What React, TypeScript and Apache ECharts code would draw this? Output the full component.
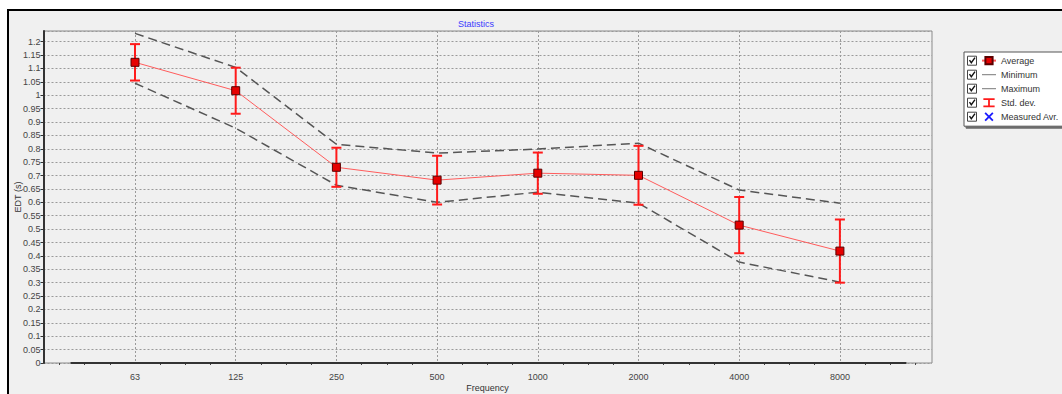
import React, { useEffect, useRef } from "react";
import * as echarts from "echarts";

// ---- data ----
const freqLabels = ["63", "125", "250", "500", "1000", "2000", "4000", "8000"];
const averageValues = [1.123, 1.017, 0.731, 0.683, 0.709, 0.701, 0.515, 0.418];
const stdDevValues = [0.068, 0.086, 0.073, 0.091, 0.077, 0.11, 0.105, 0.118];
const minimumValues = [1.045, 0.877, 0.664, 0.6, 0.638, 0.597, 0.377, 0.302];
const maximumValues = [1.231, 1.104, 0.817, 0.784, 0.799, 0.821, 0.646, 0.597];
const measuredValues: number[] = [];
const yRange = [0, 1.24];
const yStep = 0.05;
const xRange = [-1, 8];
const xAxisLineExtent = [-0.64, 7.66];
const legendNames = ["Average", "Minimum", "Maximum", "Std. dev.", "Measured Avr."];

const FONT = "Liberation Sans, Arial, sans-serif";

export default function App() {
  const ref = useRef<HTMLDivElement>(null);
  useEffect(() => {
    if (!ref.current) return;
    const chart = echarts.init(ref.current, undefined, { renderer: "svg" });

    const legendTop = 52;
    const rowH = 14;
    const checkboxes: any[] = legendNames.map((_, k) => {
      const cy = legendTop + 8.7 + k * rowH;
      return {
        type: "group",
        z: 100,
        children: [
          {
            type: "rect",
            shape: { x: 967.5, y: cy - 4.5, width: 9, height: 9 },
            style: { fill: "#fff", stroke: "#444", lineWidth: 1 },
            z: 100,
          },
          {
            type: "polyline",
            shape: { points: [[969.5, cy - 0.5], [971.3, cy + 2], [975, cy - 3]] },
            style: { stroke: "#111", lineWidth: 1.4, fill: null },
            z: 101,
          },
        ],
      };
    });

    const option: any = {
      animation: false,
      backgroundColor: "#f0f0f0",
      textStyle: { fontFamily: FONT },
      title: {
        text: "Statistics",
        left: 453,
        top: 14,
        textStyle: { color: "#3a3aff", fontSize: 9, fontWeight: "normal", fontFamily: FONT },
      },
      legend: {
        orient: "vertical",
        left: 964,
        top: legendTop,
        padding: [4, 8, 5, 17],
        itemWidth: 14,
        itemHeight: 9,
        itemGap: 5,
        backgroundColor: "#ffffff",
        borderColor: "#555",
        borderWidth: 1,
        shadowColor: "rgba(0,0,0,0.55)",
        shadowBlur: 1,
        shadowOffsetX: 2,
        shadowOffsetY: 2,
        selectedMode: false,
        textStyle: { fontSize: 9, color: "#333", fontFamily: FONT },
        data: [
          { name: "Average" },
          { name: "Minimum", icon: "path://M0,4L14,4L14,5L0,5Z", itemStyle: { color: "#777" } },
          { name: "Maximum", icon: "path://M0,4L14,4L14,5L0,5Z", itemStyle: { color: "#777" } },
          {
            name: "Std. dev.",
            icon: "path://M0,0H10V1.6H5.8V6.4H10V8H0V6.4H4.2V1.6H0Z",
          },
          {
            name: "Measured Avr.",
            icon: "path://M0,1.4L1.4,0L5,3.6L8.6,0L10,1.4L6.4,5L10,8.6L8.6,10L5,6.4L1.4,10L0,8.6L3.6,5Z",
          },
        ],
      },
      graphic: [
        { type: "rect", shape: { x: 0, y: 0, width: 1062, height: 9 }, style: { fill: "#ffffff" }, z: 90 },
        { type: "rect", shape: { x: 0, y: 0, width: 7, height: 394 }, style: { fill: "#ffffff" }, z: 90 },
        { type: "rect", shape: { x: 7, y: 9, width: 1055, height: 2 }, style: { fill: "#000000" }, z: 91 },
        { type: "rect", shape: { x: 7, y: 9, width: 2, height: 385 }, style: { fill: "#000000" }, z: 91 },
        ...checkboxes,
      ],
      grid: [
        {
          left: 43.5,
          right: 130,
          top: 31,
          bottom: 31,
          show: true,
          outerBoundsMode: "none",
          containLabel: false,
          backgroundColor: "#f0f0f0",
          borderColor: "#8a8a8a",
          borderWidth: 1,
        },
        {
          left: 34.3,
          right: 121.4,
          top: 31,
          bottom: 31,
          outerBoundsMode: "none",
          containLabel: false,
          show: false,
        },
      ],
      xAxis: [
        { type: "value", gridIndex: 0, min: 0, max: 1, show: false },
        {
          type: "value",
          gridIndex: 1,
          min: xRange[0],
          max: xRange[1],
          interval: 1,
          name: "Frequency",
          nameLocation: "middle",
          nameGap: 20,
          nameMoveOverlap: false,
          nameTextStyle: { fontSize: 9, color: "#333", fontFamily: FONT },
          axisLine: { show: false },
          axisTick: { show: false },
          minorTick: { show: true, splitNumber: 4, length: 2, lineStyle: { color: "#444", width: 1 } },
          axisLabel: {
            fontSize: 9,
            color: "#444",
            margin: 9,
            fontFamily: FONT,
            formatter: (v: number) => {
              const i = Math.round(v);
              return Math.abs(v - i) < 1e-6 && freqLabels[i] !== undefined ? freqLabels[i] : "";
            },
          },
          splitLine: {
            show: true,
            showMinLine: false,
            showMaxLine: false,
            lineStyle: { color: "#9a9a9a", type: [2, 2], width: 1 },
          },
          minorSplitLine: { show: false },
        },
      ],
      yAxis: [
        {
          type: "value",
          gridIndex: 0,
          min: yRange[0],
          max: yRange[1],
          interval: yStep,
          name: "EDT (s)",
          nameLocation: "middle",
          nameRotate: 90,
          nameGap: 21,
          nameMoveOverlap: false,
          nameTextStyle: { fontSize: 9, color: "#333", fontFamily: FONT },
          axisLine: { show: true, lineStyle: { color: "#333", width: 2 } },
          axisTick: { show: true, length: 3, lineStyle: { color: "#333" } },
          axisLabel: { fontSize: 9, color: "#444", margin: 3, showMaxLabel: false, fontFamily: FONT },
          splitLine: { show: true, lineStyle: { color: "#9a9a9a", type: [2, 2], width: 1 } },
        },
        {
          type: "value",
          gridIndex: 1,
          min: yRange[0],
          max: yRange[1],
          show: false,
          splitLine: { show: false },
        },
      ],
      series: [
        {
          name: "Minimum",
          type: "line",
          xAxisIndex: 1,
          yAxisIndex: 1,
          data: minimumValues.map((v, i) => [i, v]),
          symbol: "none",
          lineStyle: { color: "#555", width: 1.5, type: [9, 5] },
          itemStyle: { color: "#777" },
          z: 3,
          markLine: {
            silent: true,
            symbol: "none",
            label: { show: false },
            lineStyle: { color: "#333", width: 2, type: "solid" },
            data: [[{ coord: [xAxisLineExtent[0], yRange[0]] }, { coord: [xAxisLineExtent[1], yRange[0]] }]],
          },
        },
        {
          name: "Maximum",
          type: "line",
          xAxisIndex: 1,
          yAxisIndex: 1,
          data: maximumValues.map((v, i) => [i, v]),
          symbol: "none",
          lineStyle: { color: "#555", width: 1.5, type: [9, 5] },
          itemStyle: { color: "#777" },
          z: 3,
        },
        {
          name: "Std. dev.",
          type: "custom",
          xAxisIndex: 1,
          yAxisIndex: 1,
          itemStyle: { color: "#ff1a1a" },
          data: averageValues.map((v, i) => [i, v, stdDevValues[i]]),
          encode: { x: 0, y: 1 },
          z: 4,
          renderItem: (params: any, api: any) => {
            const i = api.value(0);
            const m = api.value(1);
            const s = api.value(2);
            const top = api.coord([i, m + s]);
            const bot = api.coord([i, m - s]);
            const hw = 5;
            const st = { stroke: "#ff1a1a", lineWidth: 2 };
            return {
              type: "group",
              children: [
                { type: "line", shape: { x1: top[0], y1: top[1], x2: bot[0], y2: bot[1] }, style: st },
                { type: "line", shape: { x1: top[0] - hw, y1: top[1], x2: top[0] + hw, y2: top[1] }, style: st },
                { type: "line", shape: { x1: bot[0] - hw, y1: bot[1], x2: bot[0] + hw, y2: bot[1] }, style: st },
              ],
            };
          },
        },
        {
          name: "Average",
          type: "line",
          xAxisIndex: 1,
          yAxisIndex: 1,
          data: averageValues.map((v, i) => [i, v]),
          symbol: "rect",
          symbolSize: 8,
          lineStyle: { color: "#ff5c5c", width: 1 },
          itemStyle: { color: "#e60000", borderColor: "#5a0000", borderWidth: 1 },
          z: 5,
        },
        {
          name: "Measured Avr.",
          type: "line",
          xAxisIndex: 1,
          yAxisIndex: 1,
          data: measuredValues,
          itemStyle: { color: "#1a1aff" },
          lineStyle: { color: "#1a1aff" },
        },
      ],
    };
    chart.setOption(option);
    return () => chart.dispose();
  }, []);
  return (
    <div
      ref={ref}
      style={{ position: "fixed", left: 0, top: 0, width: 1062, height: 394 }}
    />
  );
}
